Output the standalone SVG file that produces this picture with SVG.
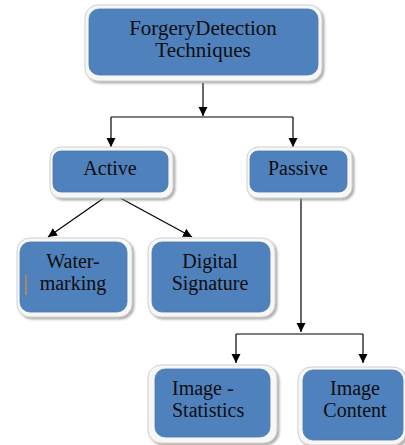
<svg xmlns="http://www.w3.org/2000/svg" width="405" height="445" viewBox="0 0 405 445">
<defs>
<filter id="sh" x="-10%" y="-10%" width="130%" height="130%">
<feDropShadow dx="2" dy="2" stdDeviation="1.2" flood-color="#8c8c8c" flood-opacity="0.7"/>
</filter>
<marker id="ah" markerWidth="10" markerHeight="10" refX="9" refY="5" orient="auto" markerUnits="userSpaceOnUse">
<path d="M0,0.5 L9,5 L0,9.5 Z" fill="#000"/>
</marker>
<style>
.outer{fill:#f7f7f7;stroke:#d0d0d0;stroke-width:1;filter:url(#sh)}
.inner{fill:#4f81bd;stroke:#4a7ab3;stroke-width:0.8}
text{font-family:'Liberation Serif','Times New Roman',serif;font-size:20px;fill:#0d0d0d}
.c{text-anchor:middle}
.ln{fill:none;stroke:#000;stroke-width:1.2}
</style>
</defs>
<rect width="405" height="445" fill="#fff"/>
<g id="connectors">
<path class="ln" d="M203,83 V116" marker-end="url(#ah)"/>
<path class="ln" d="M111,117 H293"/>
<path class="ln" d="M111,117 V147" marker-end="url(#ah)"/>
<path class="ln" d="M293,117 V147" marker-end="url(#ah)"/>
<path class="ln" d="M111,193 L48,237" marker-end="url(#ah)"/>
<path class="ln" d="M111,193 L192,237" marker-end="url(#ah)"/>
<path class="ln" d="M301,192 V332" marker-end="url(#ah)"/>
<path class="ln" d="M236,334 H363"/>
<path class="ln" d="M236,334 V363" marker-end="url(#ah)"/>
<path class="ln" d="M363,334 V363" marker-end="url(#ah)"/>
</g>
<g id="node-forgery">
<rect class="outer" x="85" y="5" width="237" height="76" rx="13"/>
<rect class="inner" x="89" y="9" width="229" height="66" rx="10"/>
<text class="c" x="203" y="35" style="font-size:21px">ForgeryDetection</text>
<text class="c" x="203" y="57" style="font-size:21px">Techniques</text>
</g>
<g id="node-active">
<rect class="outer" x="50" y="147" width="123" height="51" rx="11"/>
<rect class="inner" x="53" y="151" width="115" height="41" rx="8"/>
<text class="c" x="110" y="175">Active</text>
</g>
<g id="node-passive">
<rect class="outer" x="247" y="147" width="105" height="51" rx="11"/>
<rect class="inner" x="250" y="151" width="97" height="41" rx="8"/>
<text class="c" x="298" y="175">Passive</text>
</g>
<g id="node-watermarking">
<rect class="outer" x="17" y="238" width="115" height="79" rx="13"/>
<rect class="inner" x="20" y="242" width="107" height="70" rx="10"/>
<line x1="26" y1="275" x2="26" y2="295" stroke="#c98a3a" stroke-width="1.5"/>
<text class="c" x="73" y="268">Water-</text>
<text class="c" x="73" y="290">marking</text>
</g>
<g id="node-digital">
<rect class="outer" x="148" y="238" width="127" height="79" rx="13"/>
<rect class="inner" x="152" y="242" width="118" height="70" rx="10"/>
<text class="c" x="210" y="268">Digital</text>
<text class="c" x="210" y="290">Signature</text>
</g>
<g id="node-statistics">
<rect class="outer" x="148" y="365" width="129" height="78" rx="13"/>
<rect class="inner" x="155" y="369" width="115" height="68" rx="10"/>
<text x="172" y="395">Image -</text>
<text x="172" y="417">Statistics</text>
</g>
<g id="node-content">
<rect class="outer" x="298" y="367" width="108" height="78" rx="13"/>
<rect class="inner" x="303" y="370" width="100" height="70" rx="10"/>
<text class="c" x="355" y="395">Image</text>
<text class="c" x="355" y="417">Content</text>
</g>
</svg>
